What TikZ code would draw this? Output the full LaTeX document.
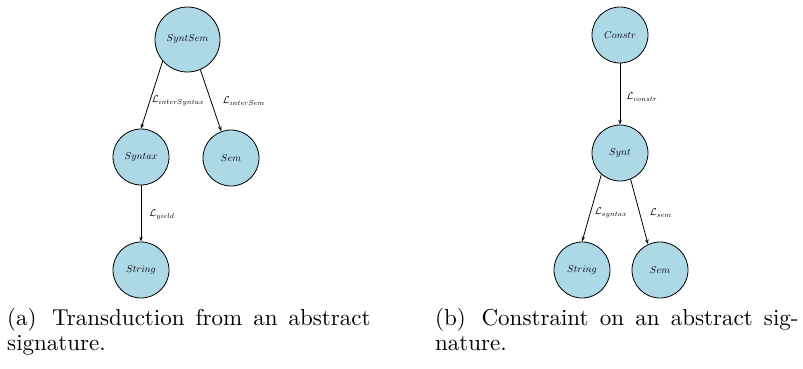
\documentclass[tikz,border=0pt]{standalone}
\usepackage{graphicx}
\usetikzlibrary{arrows.meta}
\definecolor{nodeblue}{HTML}{ADD8E6}
\begin{document}
\begin{tikzpicture}[x=1pt,y=-1pt,
  state/.style={circle, draw=black, fill=nodeblue, line width=0.8pt, inner sep=0pt, minimum size=56pt, font=\normalsize},
  bigstate/.style={state, minimum size=65pt},
  arr/.style={-{Stealth[length=5pt,width=3.5pt]}, line width=0.8pt},
  lab/.style={font=\normalsize, inner sep=0pt},
  captext/.style={anchor=base west, inner sep=0pt}]
\useasboundingbox (0,0) rectangle (803,368);
% (a)
\node[bigstate] (syntsem) at (187.5,39.5) {$SyntSem$};
\node[state] (syntax) at (141,157) {$Syntax$};
\node[state] (sema) at (231,158) {$Sem$};
\node[state] (stringa) at (141,270) {$String$};
\draw[arr] (syntsem.221) -- (syntax.north);
\draw[arr] (syntsem.293) -- (sema.110);
\draw[arr] (syntax.south) -- (stringa.north);
\node[lab] (l1) at (178,101) {$\mathcal{L}_{interSyntax}$};
\node[lab] (l2) at (244,101) {$\mathcal{L}_{interSem}$};
\node[lab] (l3) at (162,215) {$\mathcal{L}_{yield}$};
% (b)
\node[state] (constr) at (620,35) {$Constr$};
\node[state] (synt) at (620,153) {$Synt$};
\node[state] (stringb) at (582,270) {$String$};
\node[state] (semb) at (660,270) {$Sem$};
\draw[arr] (constr.south) -- (synt.north);
\draw[arr] (synt.229) -- (stringb.north);
\draw[arr] (synt.292) -- (semb.115);
\node[lab] (l4) at (642,97) {$\mathcal{L}_{constr}$};
\node[lab] (l5) at (611,213) {$\mathcal{L}_{syntax}$};
\node[lab] (l6) at (661,213) {$\mathcal{L}_{sem}$};
% captions
\node[captext] (capa1) at (7,325) {\scalebox{2.3}{\hbox to 158pt{(a)\hskip 5pt plus 2pt Transduction from an abstract}}};
\node[captext] (capa2) at (7,350) {\scalebox{2.3}{signature.}};
\node[captext] (capb1) at (435,325) {\scalebox{2.3}{\hbox to 158pt{(b)\hskip 5pt plus 2pt Constraint on an abstract sig-}}};
\node[captext] (capb2) at (435,350) {\scalebox{2.3}{nature.}};
\end{tikzpicture}
\end{document}
